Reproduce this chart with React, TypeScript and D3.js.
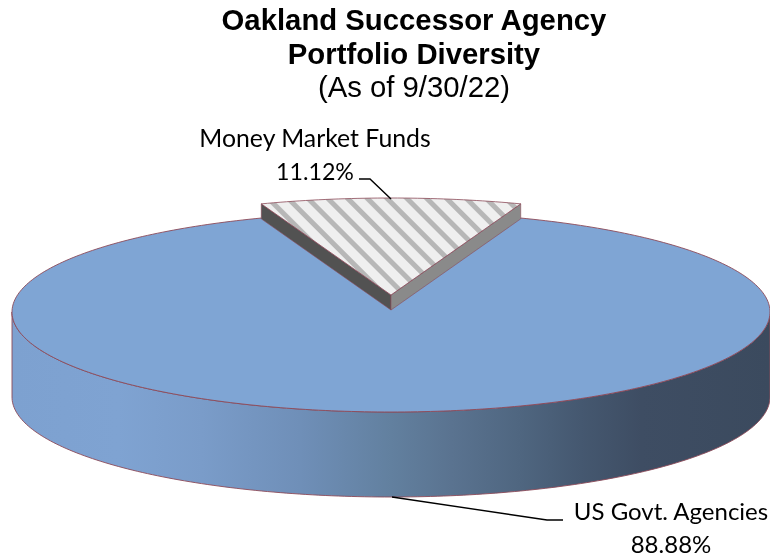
import * as d3 from "d3";

const categories = ["US Govt. Agencies", "Money Market Funds"];
const shares = [88.88, 11.12];
const shareLabels = ["88.88%", "11.12%"];
const titleLines = ["Oakland Successor Agency", "Portfolio Diversity"];
const subtitle = "(As of 9/30/22)";

const rimStops = [
  ["0%", "#7da1d0"],
  ["14%", "#7fa3d2"],
  ["25%", "#7a9cc9"],
  ["38%", "#6f8fb8"],
  ["50%", "#62809f"],
  ["58%", "#5a7390"],
  ["67%", "#4f6680"],
  ["75%", "#455870"],
  ["83%", "#3e4d63"],
  ["100%", "#3b4a5e"],
];

const width = 770;
const height = 557;
const cx = 391;
const cy = 312;
const rx = 379;
const ry = 100;
const depth = 85;
const wedgeCy = 295;
const wedgeRy = 97;
const wedgeDepth = 15;

const wedgeAngle = (shares[1] / d3.sum(shares)) * 2 * Math.PI;
const pie = d3
  .pie<number>()
  .sort(null)
  .startAngle(wedgeAngle / 2)
  .endAngle(wedgeAngle / 2 + 2 * Math.PI);
const [mainSlice, wedgeSlice] = pie(shares);

const sweep = (from: number, to: number, n: number) =>
  d3.range(0, n + 1).map((i) => from + ((to - from) * i) / n);

const ellipse = (cyy: number, ryy: number) =>
  d3
    .line<number>()
    .x((a) => cx + rx * Math.sin(a))
    .y((a) => cyy - ryy * Math.cos(a));

// bottom half of the disc, right extreme to left extreme
const rimAngles = sweep(Math.PI / 2, (3 * Math.PI) / 2, 180);
const rimTop = ellipse(cy, ry)(rimAngles) ?? "";
const rimBottom = ellipse(cy + depth, ry)([...rimAngles].reverse()) ?? "";
const rimPath = rimTop + "L" + rimBottom.slice(1) + "Z";

const discFill = ellipse(cy, ry)(sweep(0, 2 * Math.PI, 360)) + "Z";
const discEdge = ellipse(cy, ry)(sweep(mainSlice.startAngle, mainSlice.endAngle, 320)) ?? "";

const wedgePoint = (a: number): [number, number] => [
  cx + rx * Math.sin(a),
  wedgeCy - wedgeRy * Math.cos(a),
];
const wedgeTop =
  d3.line()([[cx, wedgeCy], ...sweep(wedgeSlice.startAngle, wedgeSlice.endAngle, 40).map(wedgePoint)]) + "Z";
const [lx, ly] = wedgePoint(wedgeSlice.startAngle);
const [rx2, ry2] = wedgePoint(wedgeSlice.endAngle);

const facePath = (x: number, y: number) =>
  d3.line()([
    [x, y],
    [cx, wedgeCy],
    [cx, wedgeCy + wedgeDepth],
    [x, y + wedgeDepth],
  ]) + "Z";

const edge = "#8c4a58";
const labelFont = "Lato, 'Open Sans', sans-serif";

export default function App() {
  return (
    <svg
      width={width}
      height={height}
      viewBox={`0 0 ${width} ${height}`}
      style={{ position: "fixed", left: 0, top: 0 }}
      role="img"
      aria-label="Oakland Successor Agency Portfolio Diversity"
    >
      <defs>
        <linearGradient id="rim" gradientUnits="userSpaceOnUse" x1={cx - rx} x2={cx + rx} y1={0} y2={0}>
          {rimStops.map(([o, c]) => (
            <stop key={o} offset={o} stopColor={c} />
          ))}
        </linearGradient>
        <pattern id="hatch" width={14} height={14} patternUnits="userSpaceOnUse" patternTransform="rotate(45)">
          <rect width={14} height={14} fill="#efefef" />
          <rect width={14} height={5} y={4} fill="#b7b7b7" />
        </pattern>
      </defs>

      <g textAnchor="middle" fontFamily="'Liberation Sans', Arial, sans-serif" fill="#000">
        {titleLines.map((t, i) => (
          <text key={t} x={414} y={30 + i * 33.5} fontSize={29.3} fontWeight={700}>
            {t}
          </text>
        ))}
        <text x={414} y={97} fontSize={29.3}>
          {subtitle}
        </text>
      </g>

      <path d={rimPath} fill="url(#rim)" stroke={edge} strokeWidth={0.9} />
      <path d={discFill} fill="#7fa5d4" />
      <path d={discEdge} fill="none" stroke={edge} strokeWidth={0.9} />

      <path d={facePath(lx, ly)} fill="#525252" stroke={edge} strokeWidth={0.6} />
      <path d={facePath(rx2, ry2)} fill="#8a8a8a" stroke={edge} strokeWidth={0.6} />
      <path d={wedgeTop} fill="url(#hatch)" stroke={edge} strokeWidth={0.8} />

      <g fill="none" stroke="#000" strokeWidth={1.4}>
        <polyline points="359,179 370,179 391,199" />
        <polyline points="392,497 547,520 563,520" />
      </g>

      <g textAnchor="middle" fontFamily={labelFont} fontSize={24} fill="#000">
        <text x={315} y={147} fontSize={24.8}>{categories[1]}</text>
        <text x={315} y={180} fontSize={23.2}>{shareLabels[1]}</text>
        <text x={671} y={520}>{categories[0]}</text>
        <text x={671} y={553}>{shareLabels[0]}</text>
      </g>
    </svg>
  );
}
